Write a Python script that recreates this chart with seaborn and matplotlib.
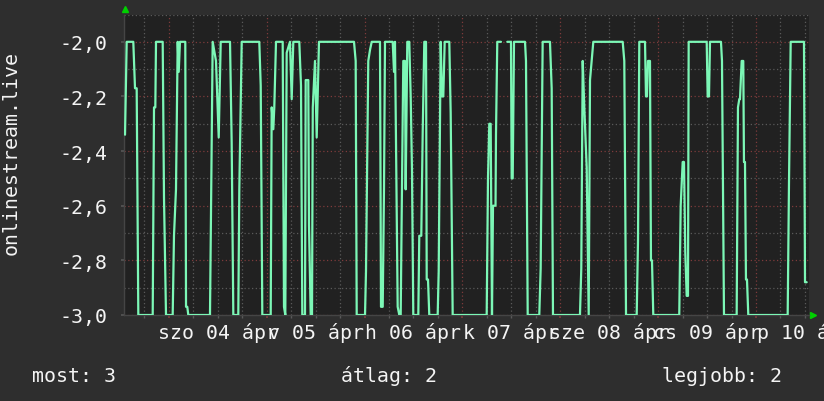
import numpy as np
import pandas as pd
import matplotlib
matplotlib.use("Agg")
import matplotlib.pyplot as plt
import seaborn as sns
from matplotlib.transforms import blended_transform_factory

# ---------------- data ----------------
# hours since 2020-04-03 13:00, and the plotted value
hours = [0.25, 0.66, 2.28, 2.70, 3.11, 3.51, 7.04, 7.36, 7.68, 7.85, 9.49, 9.81, 10.30,
         11.94, 12.26, 12.75, 13.17, 13.42, 13.73, 15.03, 15.21, 15.52, 15.77, 21.09, 21.75,
         22.56, 23.23, 23.72, 26.00, 26.41, 26.81, 28.03, 28.28, 28.87, 33.18, 33.53, 33.92,
         35.98, 36.22, 36.62, 36.86, 37.28, 38.92, 39.24, 39.56, 39.90, 40.71, 41.13, 41.52,
         42.99, 43.41, 43.73, 44.39, 44.56, 45.20, 45.37, 45.79, 46.11, 46.30, 46.84, 47.26,
         47.82, 56.41, 56.82, 57.07, 59.11, 59.35, 59.91, 60.33, 60.75, 62.78, 63.03, 63.45,
         63.77, 64.01, 65.90, 66.22, 66.46, 67.12, 67.52, 67.86, 68.10, 68.50, 68.91, 69.08,
         69.48, 69.97, 70.31, 70.63, 70.95, 72.18, 72.42, 72.91, 73.26, 73.65, 74.07, 74.24,
         74.56, 74.87, 76.93, 77.18, 77.67, 77.99, 78.31, 78.65, 79.78, 80.12, 80.61, 88.95,
         89.27, 89.59, 89.93, 90.25, 90.50, 91.12, 91.23, 91.55, 92.46,
         94.00, 94.91, 95.08, 95.33, 95.65, 98.35, 98.59, 99.01, 101.85, 102.19, 102.68,
         104.47, 104.89, 105.21, 111.83, 112.15, 112.50, 112.89, 113.48, 113.97, 114.29,
         115.10, 122.31, 122.70, 123.12, 125.74, 126.06, 126.38, 127.78, 128.02, 128.26,
         128.51, 129.00, 129.24, 129.49, 129.81, 136.18, 136.53, 137.02, 137.34, 137.66,
         138.00, 138.32, 138.49, 142.91, 143.15, 143.47, 143.72, 146.41, 146.66, 147.15,
         150.26, 150.58, 150.90, 151.07, 151.49, 151.88, 152.05, 152.30, 152.54, 152.79,
         153.11, 162.77, 163.09, 163.51, 166.77, 167.02, 167.43]
values = [-2.34, -2.0, -2.0, -2.17, -2.17, -3.0, -3.0, -2.24, -2.24, -2.0, -2.0, -2.57, -3.0,
          -3.0, -2.71, -2.54, -2.0, -2.11, -2.0, -2.0, -2.97, -2.97, -3.0, -3.0, -2.0,
          -2.07, -2.35, -2.0, -2.0, -2.37, -3.0, -3.0, -2.54, -2.0, -2.0, -2.16, -3.0,
          -3.0, -2.24, -2.32, -2.24, -2.0, -2.0, -2.97, -3.0, -2.04, -2.0, -2.21, -2.0,
          -2.0, -2.16, -3.0, -3.0, -2.14, -2.14, -2.67, -3.0, -3.0, -2.24, -2.07, -2.35,
          -2.0, -2.0, -2.07, -3.0, -3.0, -2.84, -2.07, -2.03, -2.0, -2.0, -2.97, -2.97,
          -2.53, -2.0, -2.0, -2.11, -2.0, -2.97, -3.0, -3.0, -2.64, -2.07, -2.07, -2.54,
          -2.0, -2.0, -2.20, -2.47, -3.0, -3.0, -2.71, -2.71, -2.33, -2.0, -2.0, -2.87,
          -2.87, -3.0, -3.0, -2.84, -2.0, -2.20, -2.20, -2.0, -2.0, -2.26, -3.0, -3.0,
          -2.50, -2.30, -2.30, -3.0, -2.60, -2.60, -2.34, -2.0, -2.0,
          -2.0, -2.0, -2.50, -2.50, -2.0, -2.0, -2.07, -3.0, -3.0, -2.83, -2.0,
          -2.0, -2.17, -3.0, -3.0, -2.83, -2.07, -2.24, -2.46, -3.0, -2.14,
          -2.0, -2.0, -2.07, -3.0, -3.0, -2.73, -2.0, -2.0, -2.20, -2.20,
          -2.07, -2.07, -2.80, -2.80, -3.0, -3.0, -2.60, -2.44, -2.44, -2.77,
          -2.93, -2.93, -2.0, -2.0, -2.20, -2.20, -2.0, -2.0, -2.07, -3.0,
          -3.0, -2.24, -2.21, -2.21, -2.07, -2.07, -2.44, -2.44, -2.87, -2.87,
          -3.0, -3.0, -2.52, -2.0, -2.0, -2.88, -2.88]
# data gap (unknown values) splits the series into two runs
segment_break_after = 92.46

day_labels = ["szo 04 ápr", "v 05 ápr", "h 06 ápr", "k 07 ápr",
              "sze 08 ápr", "cs 09 ápr", "p 10 ápr"]
day_start_hours = [11, 35, 59, 83, 107, 131, 155]   # midnights
ytick_values = [-3.0, -2.8, -2.6, -2.4, -2.2, -2.0]
ytick_labels = ["-3,0", "-2,8", "-2,6", "-2,4", "-2,2", "-2,0"]
y_label = "onlinestream.live"
stat_names = ["most", "átlag", "legjobb"]
stat_values = [3, 2, 2]

# ---------------- style ----------------
BG = "#2e2e2e"
PLOT_BG = "#212121"
LINE = "#7cf7b6"
TXT = "#f4f4f4"
RED_GRID = "#7e3b3b"
GRAY_GRID = "#5a5a5a"
FS = 14.3

sns.set_theme(style="dark")
plt.rcParams["font.family"] = ["DejaVu Sans Mono", "DejaVu Sans"]

W, H = 824, 402
fig = plt.figure(figsize=(W / 100, H / 100), dpi=100, facecolor=BG)
ax = fig.add_axes([124 / W, 86 / H, 685 / W, 300.5 / H])
ax.set_facecolor(PLOT_BG)

df = pd.DataFrame({"hours": hours, "value": values})
df["run"] = (df["hours"] > segment_break_after).astype(int)
sns.lineplot(data=df, x="hours", y="value", units="run", estimator=None, sort=False,
             color=LINE, lw=1.6, ax=ax, zorder=5)

ax.set_xlim(0, 168)
ax.set_ylim(-3.0, -1.9)

# x grid: red at midnights, gray every 6 h
ax.set_xticks(day_start_hours)
ax.set_xticklabels([""] * len(day_start_hours))
ax.set_xticks(np.arange(5, 168, 6), minor=True)
# y grid
ax.set_yticks(ytick_values, labels=ytick_labels)
ax.set_yticks(np.arange(-2.9, -1.85, 0.2), minor=True)

ax.grid(which="major", axis="both", color=RED_GRID, ls=(0, (1, 2)), lw=0.9)
ax.grid(which="minor", axis="both", color=GRAY_GRID, ls=(0, (1, 2)), lw=0.9)
ax.set_axisbelow(True)

ax.tick_params(axis="y", which="major", length=2.5, color="#555555", labelsize=FS,
               labelcolor=TXT, pad=9.5, left=True)
ax.tick_params(axis="y", which="minor", length=0)
ax.tick_params(axis="x", which="major", length=2, color=RED_GRID, bottom=True)
ax.tick_params(axis="x", which="minor", length=2, color=GRAY_GRID, bottom=True)
ax.set_xlabel("")
ax.set_ylabel("")

for s in ["top", "right"]:
    ax.spines[s].set_visible(False)
for s in ["left", "bottom"]:
    ax.spines[s].set_visible(True)
    ax.spines[s].set_color("#454545")
    ax.spines[s].set_linewidth(1.0)

# day labels centered at noon
tr = blended_transform_factory(ax.transData, fig.transFigure)
for h0, lab in zip(day_start_hours, day_labels):
    ax.text(h0 + 12, (H - 339.5) / H, lab, transform=tr, ha="center", va="baseline",
            color=TXT, fontsize=FS, clip_on=False)

# arrows
ax.plot([0.002], [1.018], marker="^", ms=5, color="#00d000", transform=ax.transAxes,
        clip_on=False, ls="none")
ax.plot([1.006], [0.0], marker=">", ms=5, color="#00d000", transform=ax.transAxes,
        clip_on=False, ls="none")

# y label
fig.text(11 / W, 1 - 153 / H, y_label, rotation=90, ha="center", va="center",
         color=TXT, fontsize=FS)

# stats row
stat_x = [32, 341, 662]
for xp, name, val in zip(stat_x, stat_names, stat_values):
    fig.text(xp / W, (H - 382) / H, f"{name}: {val}", ha="left", va="baseline",
             color=TXT, fontsize=FS)

fig.savefig("out.png", dpi=100, facecolor=BG)
